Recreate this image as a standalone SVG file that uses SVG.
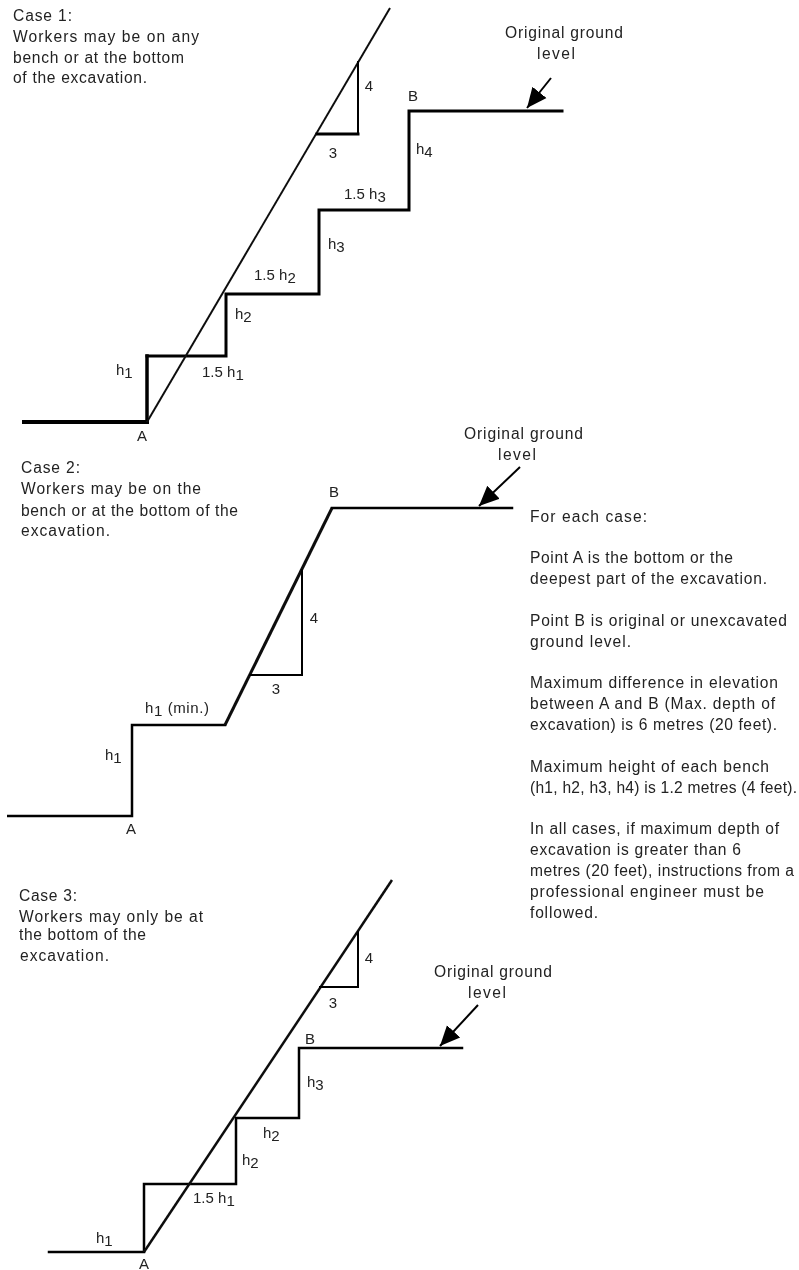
<svg xmlns="http://www.w3.org/2000/svg" width="799" height="1270" viewBox="0 0 799 1270">
<style>
text{font-family:"Liberation Sans",Arial,sans-serif;font-size:15.6px;fill:#222}
text.b{font-size:15px}
.m{text-anchor:middle}
.l{fill:none;stroke:#000;stroke-linecap:square;stroke-linejoin:miter}
.s{fill:none;stroke:#111;stroke-width:2}
</style>
<defs>
<filter id="soft" x="0" y="0" width="100%" height="100%"><feGaussianBlur stdDeviation="0.45"/></filter>
<marker id="ah" markerUnits="userSpaceOnUse" markerWidth="22" markerHeight="20" refX="20" refY="10" orient="auto"><path d="M0,1 L20,10 L0,19 Z" fill="#000"/></marker>
</defs>
<rect width="799" height="1270" fill="#fff"/>
<g filter="url(#soft)">
<g id="case1">
<path class="l" stroke-width="4" d="M24,422H147"/>
<path class="l" stroke-width="3.5" d="M147,422V356"/>
<path class="l" stroke-width="3" d="M147,356H226V294H319V210H409V111H562"/>
<path class="s" d="M147,422L390,8"/>
<path class="l" stroke-width="3" d="M317,134H358"/>
<path class="l" stroke-width="2" d="M358,134V62"/>
<text x="13" y="21" textLength="59">Case 1:</text>
<text x="13" y="41.5" textLength="186">Workers may be on any</text>
<text x="13" y="62.5" textLength="171">bench or at the bottom</text>
<text x="13" y="83" textLength="134">of the excavation.</text>
<text class="b m" x="142" y="441">A</text>
<text class="b m" x="413" y="101">B</text>
<text class="b m" x="369" y="91">4</text>
<text class="b m" x="333" y="158">3</text>
<text class="b" x="344" y="199">1.5 h<tspan dy="3">3</tspan></text>
<text class="b" x="416" y="154">h<tspan dy="3">4</tspan></text>
<text class="b" x="328" y="249">h<tspan dy="3">3</tspan></text>
<text class="b" x="254" y="280">1.5 h<tspan dy="3">2</tspan></text>
<text class="b" x="235" y="319">h<tspan dy="3">2</tspan></text>
<text class="b" x="202" y="377">1.5 h<tspan dy="3">1</tspan></text>
<text class="b" x="116" y="375">h<tspan dy="3">1</tspan></text>
<text x="505" y="38" textLength="118">Original ground</text>
<text x="537" y="59" textLength="38">level</text>
</g>
<g id="case2">
<path class="l" stroke-width="2.5" d="M7,816H132V725H225"/>
<path class="s" style="stroke-width:3" d="M225,725L332,508"/>
<path class="l" stroke-width="2.5" d="M332,508H512"/>
<path class="l" stroke-width="2" d="M250,675H302V570"/>
<text x="21" y="473" textLength="59">Case 2:</text>
<text x="21" y="494" textLength="180">Workers may be on the</text>
<text x="21" y="515.5" textLength="217">bench or at the bottom of the</text>
<text x="21" y="536" textLength="89">excavation.</text>
<text class="b m" x="131" y="834">A</text>
<text class="b m" x="334" y="497">B</text>
<text class="b m" x="314" y="623">4</text>
<text class="b m" x="276" y="694">3</text>
<text class="b" x="145" y="713" textLength="64">h<tspan dy="3">1</tspan><tspan dy="-3"> (min.)</tspan></text>
<text class="b" x="105" y="760">h<tspan dy="3">1</tspan></text>
<text x="464" y="439" textLength="119">Original ground</text>
<text x="498" y="460" textLength="38">level</text>
</g>
<g id="case3">
<path class="l" stroke-width="2.5" d="M49,1252H144V1184H236V1118H299V1048H462"/>
<path class="s" style="stroke-width:2.5" d="M144,1252L392,880"/>
<path class="l" stroke-width="2" d="M320,987H358V932"/>
<text x="19" y="901" textLength="58">Case 3:</text>
<text x="19" y="922" textLength="184">Workers may only be at</text>
<text x="19" y="940" textLength="127">the bottom of the</text>
<text x="20" y="961" textLength="89">excavation.</text>
<text class="b m" x="144" y="1269">A</text>
<text class="b m" x="310" y="1044">B</text>
<text class="b m" x="369" y="963">4</text>
<text class="b m" x="333" y="1008">3</text>
<text class="b" x="307" y="1087">h<tspan dy="3">3</tspan></text>
<text class="b" x="263" y="1138">h<tspan dy="3">2</tspan></text>
<text class="b" x="242" y="1165">h<tspan dy="3">2</tspan></text>
<text class="b" x="193" y="1203">1.5 h<tspan dy="3">1</tspan></text>
<text class="b" x="96" y="1243">h<tspan dy="3">1</tspan></text>
<text x="434" y="977" textLength="118">Original ground</text>
<text x="468" y="998" textLength="38">level</text>
</g>
<g id="notes">
<text x="530" y="522" textLength="117">For each case:</text>
<text x="530" y="563" textLength="203">Point A is the bottom or the</text>
<text x="530" y="584" textLength="237">deepest part of the excavation.</text>
<text x="530" y="626" textLength="257">Point B is original or unexcavated</text>
<text x="530" y="647" textLength="101">ground level.</text>
<text x="530" y="688" textLength="248">Maximum difference in elevation</text>
<text x="530" y="709" textLength="245">between A and B (Max. depth of</text>
<text x="530" y="730" textLength="247">excavation) is 6 metres (20 feet).</text>
<text x="530" y="772" textLength="239">Maximum height of each bench</text>
<text x="530" y="793" textLength="267">(h1, h2, h3, h4) is 1.2 metres (4 feet).</text>
<text x="530" y="834" textLength="249">In all cases, if maximum depth of</text>
<text x="530" y="855" textLength="211">excavation is greater than 6</text>
<text x="530" y="876" textLength="264">metres (20 feet), instructions from a</text>
<text x="530" y="897" textLength="234">professional engineer must be</text>
<text x="530" y="918" textLength="68">followed.</text>
</g>
<g id="connectors" fill="none" stroke="#000" stroke-width="2">
<path marker-end="url(#ah)" d="M551,78L527,108"/>
<path marker-end="url(#ah)" d="M520,467L479,506"/>
<path marker-end="url(#ah)" d="M478,1005L440,1046"/>
</g>
</g>
</svg>
